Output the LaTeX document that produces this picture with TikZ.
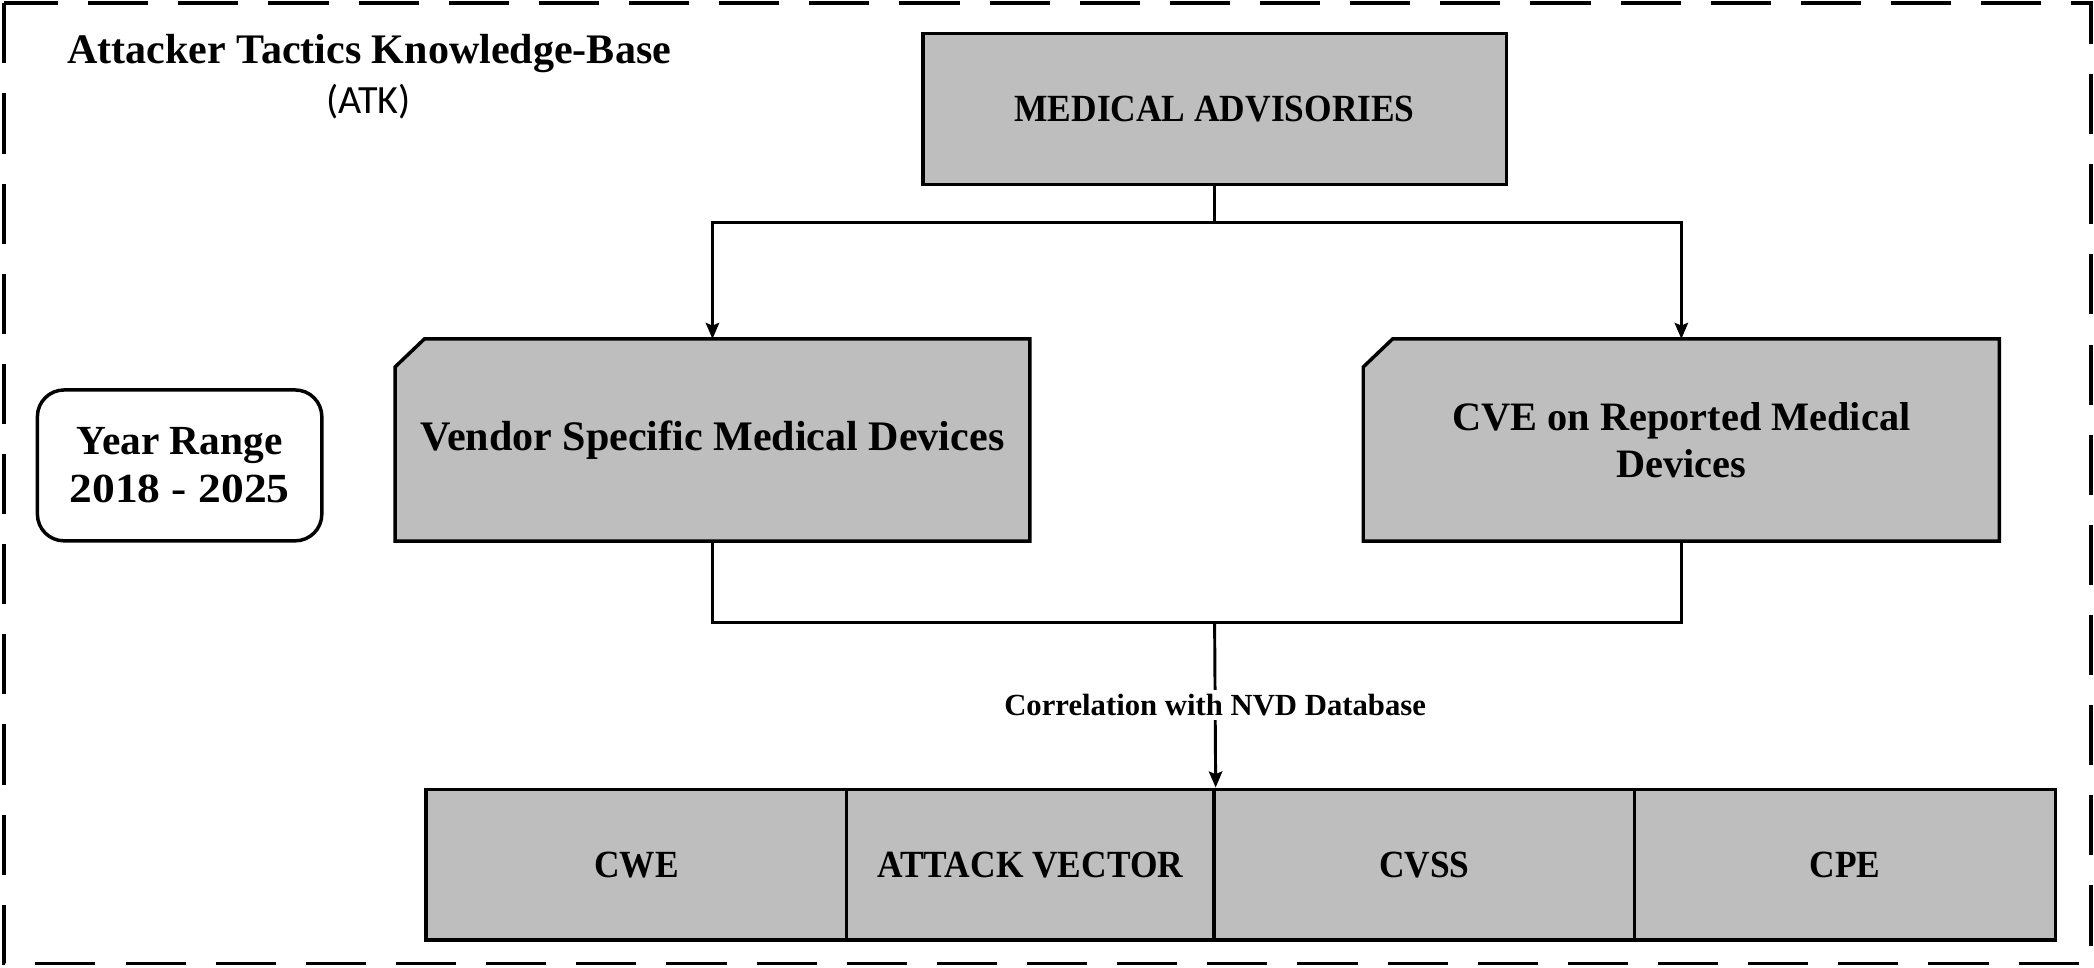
\documentclass[tikz,border=0pt]{standalone}
\usepackage{fontspec}
\setmainfont{Liberation Serif}
\newfontfamily\calibfont{Carlito}
\usetikzlibrary{arrows.meta,backgrounds}
\definecolor{boxgray}{RGB}{190,190,190}
\tikzset{
  boxline/.style={line width=2.6pt},
  graybox/.style={boxline, draw, fill=boxgray, inner sep=0pt, align=center},
  plainbox/.style={inner sep=0pt, align=center},
  conn/.style={line width=2.2pt},
  arr/.style={conn, -{Stealth[length=12pt,width=10pt,inset=2pt]}},
  bigtext/.style={font=\fontsize{31.5}{35}\selectfont\bfseries},
  captext/.style={font=\fontsize{28.8}{32}\selectfont\bfseries\addfontfeature{FakeStretch=0.92}},
  lbltext/.style={font=\fontsize{23}{26}\selectfont\bfseries},
  frame/.style={line width=2.8pt, dash pattern=on 45pt off 22.5pt},
}
\begin{document}
\begin{tikzpicture}[x=1pt,y=-1pt]
\useasboundingbox (0,0) rectangle (1568,724.1);
\draw[frame] (3,2.5) rectangle (1565.5,721.5);

\node[bigtext, plainbox] (title) at (276.5,40) {Attacker Tactics Knowledge-Base};
\node[font=\fontsize{30}{34}\selectfont\calibfont, plainbox] (atk) at (276,76) {(ATK)};

\node[boxline, draw, fill=white, rounded corners=20pt, minimum width=213pt, minimum height=113pt,
      align=center, inner sep=0pt, font=\fontsize{31}{36}\selectfont\bfseries] (year) at (134.5,348.5) {Year Range\\{\addfontfeature{FakeStretch=1.1}2018 - 2025}};

\node[graybox, captext, minimum width=437pt, minimum height=113pt] (med) at (909.5,81.5) {MEDICAL ADVISORIES};

\node[plainbox, bigtext, minimum width=475pt, minimum height=151pt] (vendor) at (533.5,329.5) {Vendor Specific Medical Devices};
\node[plainbox, font=\fontsize{30.2}{35}\selectfont\bfseries, minimum width=476pt, minimum height=151pt] (cve) at (1259,329.5) {CVE on Reported Medical\\Devices};

\begin{scope}[on background layer]
\draw[boxline, fill=boxgray] ([yshift=-21pt]vendor.north west) -- ([xshift=22pt]vendor.north west) -- (vendor.north east) -- (vendor.south east) -- (vendor.south west) -- cycle;
\draw[boxline, fill=boxgray] ([yshift=-21pt]cve.north west) -- ([xshift=22pt]cve.north west) -- (cve.north east) -- (cve.south east) -- (cve.south west) -- cycle;
\end{scope}

\node[graybox, captext, minimum width=315pt, minimum height=113pt] (cwe) at (476.5,647.5) {CWE};
\node[graybox, captext, minimum width=275pt, minimum height=113pt] (av) at (771.5,647.5) {ATTACK VECTOR};
\node[graybox, captext, minimum width=315pt, minimum height=113pt] (cvss) at (1066.5,647.5) {CVSS};
\node[graybox, captext, minimum width=315pt, minimum height=113pt] (cpe) at (1381.5,647.5) {CPE};

\draw[conn] (med.south) -- ++(0,27) coordinate (j1);
\draw[arr] (j1) -| (vendor.north);
\draw[arr] (j1) -| (cve.north);

\draw[conn] (vendor.south) -- ++(0,61) coordinate (vb) -| (cve.south);
\coordinate (j2) at (vb -| med.south);
\draw[arr] (j2) -- node[lbltext, fill=white, inner sep=3pt] (corr) {Correlation with NVD Database} (av.north east);
\end{tikzpicture}
\end{document}
